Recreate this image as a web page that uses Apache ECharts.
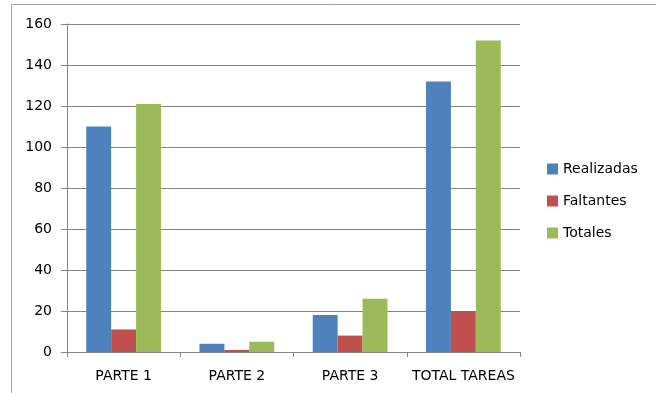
<!DOCTYPE html>
<html><head><meta charset="utf-8">
<script src="https://cdn.jsdelivr.net/npm/echarts@6/dist/echarts.min.js"></script>
<style>html,body{margin:0;padding:0;background:#fff}#c{width:656px;height:393px}</style>
</head><body><div id="c"></div>
<script>
var categories = ["PARTE 1", "PARTE 2", "PARTE 3", "TOTAL TAREAS"];
var realizadas = [110, 4, 18, 132];
var faltantes = [11, 1, 8, 20];
var totales = [121, 5, 26, 152];
var yTicks = [0, 20, 40, 60, 80, 100, 120, 140, 160];

var font = "'DejaVu Sans', sans-serif";
var chart = echarts.init(document.getElementById('c'), null, {renderer: 'canvas'});
chart.setOption({
  animation: false,
  backgroundColor: '#fff',
  graphic: [{
    type: 'rect', shape: {x: 11.5, y: 4.5, width: 700, height: 400},
    style: {fill: 'none', stroke: '#a0a0a0', lineWidth: 1}, silent: true, z: -1
  }],
  grid: {left: 67, right: 136, top: 24, bottom: 41, containLabel: false},
  legend: {
    orient: 'vertical', left: 542, top: 157, itemGap: 18,
    itemWidth: 11, itemHeight: 11, icon: 'rect',
    textStyle: {fontFamily: font, fontSize: 14, color: '#000', padding: [0,0,0,0]},
    data: ['Realizadas', 'Faltantes', 'Totales']
  },
  xAxis: {
    type: 'category', data: categories,
    axisLine: {lineStyle: {color: '#868686'}},
    axisTick: {show: true, length: 5, lineStyle: {color: '#868686'}},
    axisLabel: {fontFamily: font, fontSize: 14, color: '#000', margin: 17, interval: 0}
  },
  yAxis: {
    type: 'value', min: yTicks[0], max: yTicks[yTicks.length-1], interval: 20,
    axisLine: {show: true, lineStyle: {color: '#868686'}},
    axisTick: {show: true, length: 6, lineStyle: {color: '#868686'}},
    splitLine: {lineStyle: {color: '#868686'}},
    axisLabel: {fontFamily: font, fontSize: 14, color: '#000', margin: 15}
  },
  series: [
    {name: 'Realizadas', type: 'bar', data: realizadas, itemStyle: {color: '#4F81BD'}, barGap: '0%', barCategoryGap: '34%'},
    {name: 'Faltantes', type: 'bar', data: faltantes, itemStyle: {color: '#C0504D'}},
    {name: 'Totales', type: 'bar', data: totales, itemStyle: {color: '#9BBB59'}}
  ]
});
</script></body></html>
